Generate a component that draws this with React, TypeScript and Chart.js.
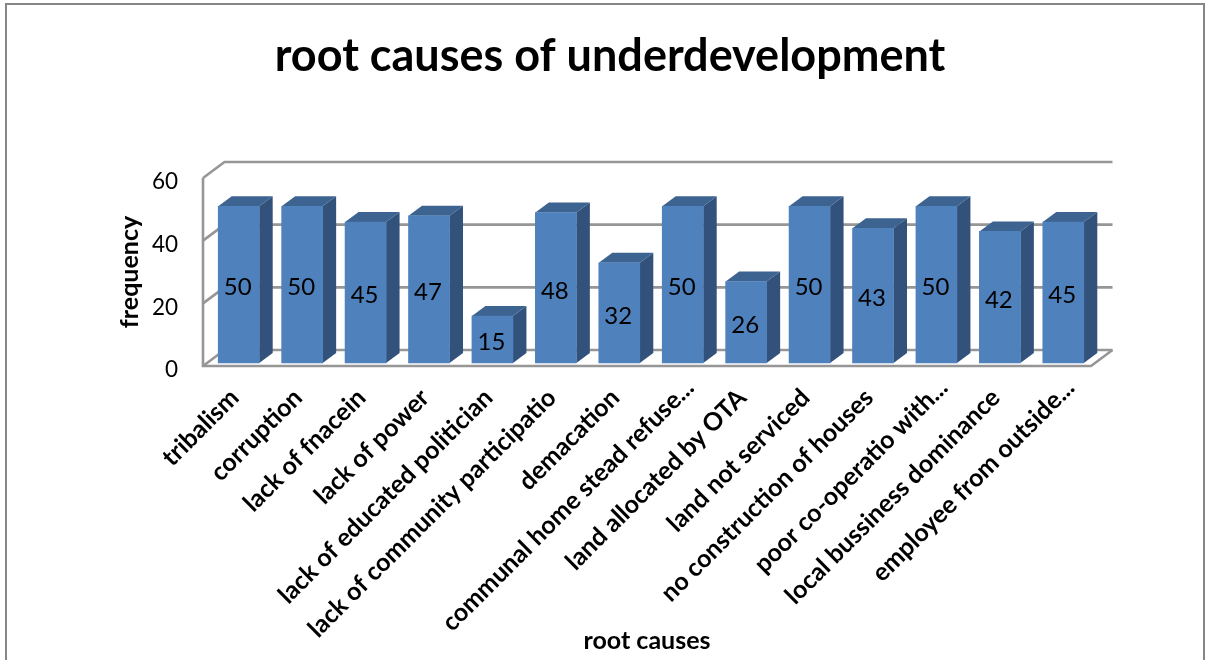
import React, { useEffect, useRef } from "react";
import { Chart, registerables } from "chart.js";

Chart.register(...registerables);

const categories = [
  "tribalism",
  "corruption",
  "lack of fnacein",
  "lack of power",
  "lack of educated politician",
  "lack of community participatio",
  "demacation",
  "communal home stead refuse...",
  "land allocated by OTA",
  "land not serviced",
  "no construction of houses",
  "poor co-operatio with...",
  "local bussiness dominance",
  "employee from outside...",
];
const frequencies = [50, 50, 45, 47, 15, 48, 32, 50, 26, 50, 43, 50, 42, 45];

const chartTitle = "root causes of underdevelopment";
const xAxisTitle = "root causes";
const yAxisTitle = "frequency";

const FONT = "Lato";
const FRONT = "#4f81bd";
const SIDE = "#33527b";
const TOP = "#3d6391";
const GRID = "#969696";
const FRAME = "#868686";

// Depth of the back wall and of each bar, in pixels.
const WALL_DX = 21.5;
const WALL_DY = 16;
const BAR_DX = 13.5;
const BAR_DY = 10;
// Bars stand slightly forward of the front floor edge.
const BAR_SHIFT_X = 4;
const BAR_SHIFT_Y = -3;
// Truncated category labels sit further along their slant.
const TRUNCATED_DX = 11;
const TRUNCATED_DY = -10;

const box3d = {
  id: "box3d",
  afterUpdate(chart: any) {
    const items = chart.scales.x.getLabelItems(chart.chartArea);
    items.forEach((item: any) => {
      if (String(item.label).endsWith("...")) {
        item.options.translation = [
          item.options.translation[0] + TRUNCATED_DX,
          item.options.translation[1] + TRUNCATED_DY,
        ];
      }
    });
  },
  beforeDraw(chart: any) {
    const { ctx, width, height } = chart;
    ctx.save();
    ctx.fillStyle = "#ffffff";
    ctx.fillRect(0, 0, width, height);
    ctx.strokeStyle = FRAME;
    ctx.lineWidth = 2;
    ctx.strokeRect(6, 4, 1198, height + 10);
    ctx.restore();
  },
  beforeDatasetsDraw(chart: any) {
    const { ctx, chartArea, scales } = chart;
    const { left, right, top, bottom } = chartArea;
    ctx.save();
    ctx.strokeStyle = GRID;
    ctx.lineWidth = 2.6;
    ctx.lineJoin = "miter";

    // Wall lines at each tick, running back from the axis.
    scales.y.ticks.forEach((t: any) => {
      const y = scales.y.getPixelForValue(t.value);
      ctx.beginPath();
      ctx.moveTo(left, y);
      ctx.lineTo(left + WALL_DX, y - WALL_DY);
      ctx.lineTo(right + WALL_DX, y - WALL_DY);
      ctx.stroke();
    });

    // Front edges of the floor and the vertical axis.
    ctx.beginPath();
    ctx.moveTo(left, top);
    ctx.lineTo(left, bottom);
    ctx.lineTo(right, bottom);
    ctx.lineTo(right + WALL_DX, bottom - WALL_DY);
    ctx.stroke();

    // Side and top faces of each bar.
    chart.getDatasetMeta(0).data.forEach((bar: any) => {
      const { x, y, base, width } = bar.getProps(["x", "y", "base", "width"], true);
      const l = x - width / 2 + BAR_SHIFT_X;
      const r = x + width / 2 + BAR_SHIFT_X;
      const t = y + BAR_SHIFT_Y;
      const b = base + BAR_SHIFT_Y;
      ctx.fillStyle = SIDE;
      ctx.beginPath();
      ctx.moveTo(r, t);
      ctx.lineTo(r + BAR_DX, t - BAR_DY);
      ctx.lineTo(r + BAR_DX, b - BAR_DY);
      ctx.lineTo(r, b);
      ctx.closePath();
      ctx.fill();
      ctx.fillStyle = TOP;
      ctx.beginPath();
      ctx.moveTo(l, t);
      ctx.lineTo(l + BAR_DX, t - BAR_DY);
      ctx.lineTo(r + BAR_DX, t - BAR_DY);
      ctx.lineTo(r, t);
      ctx.closePath();
      ctx.fill();
    });
    ctx.restore();
  },
  beforeDatasetDraw(chart: any) {
    chart.ctx.save();
    chart.ctx.translate(BAR_SHIFT_X, BAR_SHIFT_Y);
  },
  afterDatasetDraw(chart: any) {
    chart.ctx.restore();
  },
  afterDatasetsDraw(chart: any) {
    const { ctx } = chart;
    ctx.save();
    ctx.fillStyle = "#000000";
    ctx.font = `24px ${FONT}`;
    ctx.textAlign = "center";
    ctx.textBaseline = "middle";
    chart.getDatasetMeta(0).data.forEach((bar: any, i: number) => {
      const { x, y, base } = bar.getProps(["x", "y", "base"], true);
      ctx.fillText(String(frequencies[i]), x + BAR_SHIFT_X - 1, (y + base) / 2 + BAR_SHIFT_Y + 3);
    });
    ctx.restore();
  },
};

export default function App() {
  const ref = useRef<HTMLCanvasElement>(null);

  useEffect(() => {
    const chart = new Chart(ref.current as HTMLCanvasElement, {
      type: "bar",
      data: {
        labels: categories,
        datasets: [
          {
            data: frequencies,
            backgroundColor: FRONT,
            barThickness: 41,
            clip: false,
          } as any,
        ],
      },
      plugins: [box3d],
      options: {
        responsive: false,
        animation: false,
        events: [],
        layout: { padding: { left: 129, right: 115, top: 0, bottom: 4 } },
        plugins: {
          legend: { display: false },
          tooltip: { enabled: false },
          title: {
            display: true,
            text: chartTitle,
            color: "#000000",
            font: { family: FONT, size: 45, weight: "bold" },
            padding: { top: 29, bottom: 95 },
          },
        },
        scales: {
          x: {
            grid: { display: false, drawTicks: false },
            border: { display: false },
            afterFit(scale: any) {
              scale.height = 290;
            },
            ticks: {
              autoSkip: false,
              minRotation: 45,
              maxRotation: 45,
              padding: 17,
              labelOffset: 0,
              color: "#000000",
              font: { family: FONT, size: 25, weight: "bold" },
            },
            title: {
              display: true,
              text: xAxisTitle,
              color: "#000000",
              font: { family: FONT, size: 25, weight: "bold" },
              padding: { top: 0, bottom: 0 },
            },
          },
          y: {
            min: 0,
            max: 60,
            afterFit(scale: any) {
              scale.width = 74;
            },
            grid: { display: false, drawTicks: false },
            border: { display: false },
            ticks: {
              stepSize: 20,
              padding: 25,
              labelOffset: 4,
              color: "#000000",
              font: { family: FONT, size: 22.5 },
            },
            title: {
              display: true,
              text: yAxisTitle,
              color: "#000000",
              font: { family: FONT, size: 25, weight: "bold" },
              padding: { top: -14, bottom: 0 },
            },
          },
        },
      } as any,
    });
    return () => chart.destroy();
  }, []);

  return (
    <div style={{ position: "fixed", left: 0, top: 0, width: 1206, height: 660, overflow: "hidden" }}>
      <canvas ref={ref} width={1206} height={660} style={{ display: "block" }} />
    </div>
  );
}
